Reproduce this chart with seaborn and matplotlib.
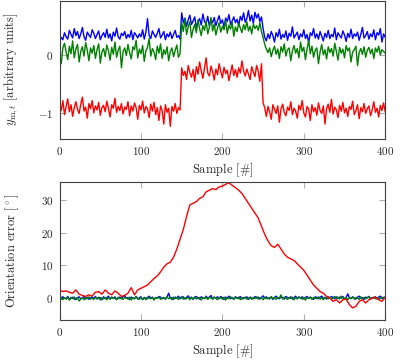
import numpy as np
import pandas as pd
import matplotlib
matplotlib.use("Agg")
import matplotlib.pyplot as plt
import seaborn as sns

# sample index: every 2 samples for the noisy traces, every 4 for the red error
fine_samples = np.arange(0, 401, 2)
coarse_samples = np.arange(0, 401, 4)

# top panel: y_{m,t} per channel (0-148 low, 150-248 high, 250-400 low)
top_blue = [
    0.22, 0.30, 0.26, 0.38, 0.31, 0.27, 0.42, 0.35, 0.29, 0.45,
    0.33, 0.40, 0.28, 0.36, 0.47, 0.31, 0.25, 0.39, 0.34, 0.30,
    0.43, 0.37, 0.28, 0.35, 0.41, 0.26, 0.33, 0.38, 0.30, 0.44,
    0.29, 0.36, 0.24, 0.39, 0.32, 0.46, 0.31, 0.27, 0.37, 0.33,
    0.40, 0.28, 0.35, 0.30, 0.42, 0.26, 0.38, 0.34, 0.29, 0.36,
    0.31, 0.43, 0.27, 0.39, 0.62, 0.33, 0.28, 0.41, 0.35, 0.30,
    0.37, 0.45, 0.29, 0.34, 0.40, 0.26, 0.36, 0.31, 0.39, 0.28,
    0.35, 0.42, 0.30, 0.33, 0.27,
    0.72, 0.55, 0.63, 0.49, 0.60, 0.68, 0.52, 0.58, 0.65, 0.47,
    0.56, 0.62, 0.51, 0.70, 0.57, 0.53, 0.66, 0.49, 0.61, 0.55,
    0.64, 0.50, 0.59, 0.67, 0.54, 0.60, 0.48, 0.63, 0.57, 0.69,
    0.52, 0.58, 0.65, 0.55, 0.61, 0.50, 0.66, 0.59, 0.72, 0.56,
    0.62, 0.76, 0.58, 0.68, 0.54, 0.73, 0.63, 0.70, 0.57, 0.65,
    0.45, 0.30, 0.24, 0.36, 0.28, 0.40, 0.33, 0.22, 0.38, 0.31,
    0.44, 0.27, 0.35, 0.30, 0.41, 0.25, 0.37, 0.32, 0.48, 0.29,
    0.34, 0.39, 0.26, 0.36, 0.31, 0.43, 0.28, 0.35, 0.21, 0.38,
    0.33, 0.45, 0.29, 0.36, 0.27, 0.40, 0.32, 0.24, 0.37, 0.30,
    0.42, 0.28, 0.35, 0.31, 0.46, 0.26, 0.38, 0.33, 0.29, 0.41,
    0.34, 0.23, 0.37, 0.30, 0.44, 0.28, 0.36, 0.32, 0.39, 0.25,
    0.35, 0.47, 0.29, 0.33, 0.40, 0.27, 0.36, 0.31, 0.43, 0.26,
    0.38, 0.34, 0.45, 0.22, 0.36, 0.30,
]
top_green = [
    0.00, -0.15, 0.12, 0.20, 0.05, -0.08, 0.15, 0.02, 0.24, -0.05,
    0.10, 0.18, -0.12, 0.06, 0.14, -0.02, 0.21, 0.08, -0.10, 0.12,
    0.03, 0.16, -0.06, 0.09, 0.19, -0.14, 0.05, 0.11, -0.03, 0.17,
    0.07, -0.09, 0.13, 0.01, 0.22, -0.04, 0.08, 0.15, -0.22, 0.06,
    0.12, -0.01, 0.18, 0.04, -0.07, 0.14, 0.09, 0.25, -0.05, 0.10,
    0.02, 0.16, -0.11, 0.07, 0.13, 0.28, -0.02, 0.11, 0.05, -0.08,
    0.15, 0.03, 0.19, -0.06, 0.09, 0.01, 0.14, -0.10, 0.06, 0.12,
    -0.03, 0.08, 0.17, -0.04, 0.02,
    0.55, 0.40, 0.62, 0.35, 0.48, 0.57, 0.30, 0.44, 0.52, 0.38,
    0.60, 0.45, 0.33, 0.50, 0.42, 0.58, 0.36, 0.47, 0.64, 0.41,
    0.53, 0.34, 0.46, 0.55, 0.39, 0.49, 0.43, 0.59, 0.37, 0.51,
    0.44, 0.56, 0.32, 0.48, 0.40, 0.54, 0.46, 0.38, 0.52, 0.43,
    0.57, 0.41, 0.49, 0.36, 0.53, 0.45, 0.50, 0.42, 0.55, 0.40,
    0.30, 0.18, 0.10, 0.04, 0.12, -0.03, 0.08, 0.15, 0.01, 0.10,
    -0.06, 0.14, 0.05, 0.19, -0.02, 0.09, 0.12, -0.10, 0.07, 0.16,
    0.03, 0.11, -0.05, 0.22, 0.06, 0.13, -0.08, 0.10, 0.25, 0.02,
    0.15, -0.04, 0.08, 0.12, -0.15, 0.05, 0.18, 0.00, 0.09, -0.07,
    0.14, 0.04, 0.11, -0.02, 0.20, 0.06, -0.09, 0.13, 0.03, 0.10,
    -0.05, 0.16, 0.07, 0.12, -0.12, 0.05, 0.09, 0.15, -0.18, 0.04,
    0.11, 0.01, 0.14, -0.04, 0.08, 0.13, 0.02, 0.10, -0.06, 0.12,
    0.05, 0.15, 0.00, 0.09, 0.06, 0.03,
]
top_red = [
    -0.82, -0.95, -0.78, -1.02, -0.88, -0.75, -0.97, -0.85, -1.05, -0.90,
    -0.80, -0.93, -1.00, -0.84, -0.72, -0.96, -0.89, -1.08, -0.83, -0.92,
    -0.78, -0.99, -0.87, -0.94, -0.81, -1.03, -0.90, -0.86, -0.97, -0.79,
    -0.92, -1.06, -0.85, -0.91, -0.74, -0.98, -0.88, -0.95, -0.83, -1.01,
    -0.89, -0.93, -0.80, -1.04, -0.87, -0.96, -0.82, -0.90, -1.10, -0.86,
    -0.94, -0.79, -0.99, -0.88, -0.92, -1.07, -0.84, -0.96, -0.81, -1.02,
    -0.90, -1.12, -0.87, -0.95, -1.18, -0.85, -0.98, -0.91, -1.22, -0.88,
    -0.96, -0.83, -1.00, -0.90, -0.94,
    -0.22, -0.35, -0.28, -0.42, -0.18, -0.30, -0.38, -0.25, -0.45, -0.20,
    -0.33, -0.12, -0.27, -0.40, -0.23, -0.05, -0.31, -0.36, -0.19, -0.29,
    -0.43, -0.24, -0.34, -0.15, -0.28, -0.39, -0.21, -0.32, -0.26, -0.44,
    -0.30, -0.17, -0.35, -0.25, -0.38, -0.22, -0.31, -0.10, -0.27, -0.36,
    -0.24, -0.33, -0.42, -0.20, -0.29, -0.37, -0.18, -0.28, -0.45, -0.15,
    -0.82, -0.90, -1.05, -0.88, -0.97, -1.10, -0.85, -0.93, -1.00, -0.87,
    -1.15, -0.92, -0.84, -0.98, -1.04, -0.89, -0.95, -0.80, -1.02, -0.91,
    -0.96, -1.08, -0.86, -0.94, -0.78, -0.99, -1.06, -0.88, -0.93, -1.12,
    -0.85, -0.97, -0.90, -1.03, -0.82, -0.95, -1.00, -0.87, -1.18, -0.92,
    -0.84, -0.98, -0.76, -1.01, -0.89, -0.94, -1.07, -0.86, -0.96, -0.81,
    -0.99, -0.91, -1.05, -0.88, -0.93, -0.79, -1.02, -0.95, -0.85, -1.09,
    -0.90, -0.97, -0.83, -1.00, -0.92, -0.87, -1.04, -0.94, -0.80, -0.98,
    -0.91, -1.06, -0.86, -0.95, -0.82, -0.97,
]

# bottom panel: orientation error in degrees
err_blue = [
    0.1, -0.3, 0.4, 0.0, -0.2, 0.5, -0.4, 0.2, -0.1, 0.3,
    -0.5, 0.1, 0.4, -0.2, 0.0, 0.6, -0.3, 0.2, -0.4, 0.1,
    0.3, -0.1, 0.5, -0.3, 0.0, 0.2, -0.5, 0.4, -0.2, 0.1,
    0.6, -0.3, 0.2, -0.1, 0.4, -0.4, 0.0, 0.3, -0.2, 0.5,
    0.8, -0.1, 0.2, -0.4, 0.3, 0.0, -0.2, 0.5, -0.3, 0.1,
    0.4, -0.5, 0.2, 0.0, -0.2, 0.6, -0.1, 0.3, -0.4, 0.2,
    0.0, 0.5, 0.3, -0.2, 0.1, -0.3, 0.4, 1.5, -0.1, 0.2,
    -0.4, 0.3, 0.0, 0.6, -0.2, 0.1, 0.4, -0.3, 0.2, 0.7,
    -0.1, 0.3, -0.4, 0.2, 0.5, 0.0, -0.3, 0.4, 0.1, -0.2,
    0.6, -0.1, 0.3, 0.8, -0.3, 0.2, 0.0, 0.4, -0.2, 0.5,
    0.1, -0.4, 0.3, 0.0, 0.6, -0.2, 0.2, -0.3, 0.4, 0.1,
    -0.1, 0.5, -0.3, 0.2, 0.0, 0.4, -0.4, 0.3, 0.1, -0.2,
    0.5, 0.0, 0.3, -0.3, 0.2, 0.7, -0.1, 0.4, -0.2, 0.1,
    0.3, -0.4, 0.2, 0.6, 0.0, -0.2, 0.4, 0.1, -0.3, 0.5,
    0.2, -0.1, 0.4, -0.3, 0.1, 0.6, -0.2, 0.3, 0.0, 0.4,
    -0.3, 0.2, 0.5, -0.1, 0.3, 0.0, -0.4, 0.4, 0.2, -0.2,
    0.3, 0.6, -0.1, 0.2, -0.3, 0.4, 0.0, 0.5, 0.2, -0.2,
    0.4, -0.1, 0.3, 0.0, 0.5, -0.3, 0.2, 1.3, 0.1, -0.2,
    0.4, 0.0, -0.3, 0.3, 0.6, -0.1, 0.2, -0.4, 0.3, 0.1,
    0.5, -0.2, 0.2, 0.0, 0.4, -0.3, 0.3, 0.6, -0.1, 0.2,
    0.3,
]
err_green = [
    -0.2, 0.3, -0.5, 0.1, -0.3, 0.2, -0.6, 0.0, 0.3, -0.4,
    -0.1, 0.2, -0.9, -0.3, 0.1, -0.5, 0.2, -0.2, 0.4, -0.3,
    0.0, -0.4, 0.2, -0.1, 0.3, -0.6, 0.1, -0.2, 0.2, -0.5,
    0.1, -0.3, 0.4, -0.1, 0.0, -0.5, 0.3, -0.2, 0.1, -0.4,
    0.2, 0.0, -0.3, 0.3, -0.6, 0.1, -0.2, 0.4, -0.1, -0.4,
    0.2, -0.3, 0.1, -0.5, 0.3, 0.0, -0.2, 0.2, -0.6, 0.1,
    -0.1, 0.3, -0.4, 0.0, 0.2, -0.3, 0.4, -0.2, 0.1, -0.5,
    0.3, -0.1, 0.2, -0.4, 0.0, 0.5, -0.3, 0.1, -0.2, 0.3,
    -0.5, 0.1, -0.2, 0.4, -0.3, 0.0, 0.2, -0.6, 0.1, -0.1,
    0.3, -0.4, 0.2, 0.0, -0.3, 0.4, -0.1, -0.5, 0.2, 0.1,
    -0.3, 0.3, -0.6, 0.1, -0.2, 0.4, 0.0, -0.4, 0.2, -0.1,
    0.3, -0.5, 0.1, -0.2, 0.3, -0.3, 0.0, 0.2, -0.4, 0.1,
    -0.1, 0.4, -0.3, 0.2, 0.0, -0.5, 0.3, -0.2, 0.1, -0.3,
    0.5, -0.2, 0.2, -0.4, 0.1, 0.0, 1.0, -0.3, 0.3, -0.1,
    -0.4, 0.2, -0.1, 0.3, -0.5, 0.1, -0.2, 0.4, 0.0, -0.3,
    0.2, -0.6, 0.1, -0.1, 0.3, -0.4, 0.2, 0.0, -0.2, 0.4,
    -0.3, 0.1, -0.5, 0.2, 0.0, -0.2, 0.3, -0.4, 0.1, 0.5,
    -0.1, 0.3, -0.3, 0.6, 0.0, -0.2, 0.2, -0.5, 0.1, -0.1,
    0.3, -0.3, 0.2, 0.0, -0.4, 0.4, -0.1, 0.2, -0.2, 0.1,
    0.5, -0.3, 0.0, 0.3, -0.2, 0.2, -0.4, 0.1, 0.3, 0.0,
    0.1,
]
err_red = [
    2.5, 2.0, 2.2, 1.8, 1.5, 2.5, 1.2, 0.8, 0.5, 1.0,
    0.6, 1.8, 2.0, 1.2, 2.5, 1.5, 1.0, 2.2, 1.5, 0.5,
    0.8, 1.5, 3.2, 1.0, 2.5, 3.0, 3.5, 4.0, 5.0, 6.0,
    6.8, 8.0, 9.5, 10.5, 11.0, 12.5, 15.0, 18.0, 21.0, 25.0,
    28.5, 29.0, 29.5, 30.5, 31.0, 32.5, 33.0, 33.5, 33.2, 34.0,
    34.3, 34.8, 35.3, 34.5, 33.8, 33.0, 32.0, 30.5, 29.0, 27.5,
    26.0, 24.5, 22.0, 19.5, 17.5, 16.0, 15.5, 16.5, 15.0, 13.5,
    12.5, 12.0, 11.5, 10.5, 9.5, 8.5, 7.0, 5.5, 4.0, 3.0,
    2.0, 1.5, 0.5, 0.0, -1.0, -0.5, -1.5, -0.5, -0.3, -2.0,
    -3.0, -2.5, -1.0, -0.5, -1.5, -0.5, 0.0, 0.3, -0.5, -1.0,
    0.3,
]

channels = ["blue", "green", "red"]
colors = {"blue": "#0000ff", "green": "#008000", "red": "#ff0000"}


def long_frame(xs, series):
    parts = []
    for name, x, vals in zip(channels, xs, series):
        parts.append(pd.DataFrame({"Sample": x, "value": vals, "channel": name}))
    return pd.concat(parts, ignore_index=True)


top_df = long_frame([fine_samples] * 3, [top_blue, top_green, top_red])
err_df = long_frame([fine_samples, fine_samples, coarse_samples],
                    [err_blue, err_green, err_red])

sns.set_style("ticks")
plt.rcParams["font.family"] = ["serif"]
plt.rcParams["font.serif"] = ["cmr10"]
plt.rcParams["mathtext.fontset"] = "cm"
plt.rcParams["axes.formatter.use_mathtext"] = True

fig = plt.figure(figsize=(4.0, 3.62), dpi=100)
ax1 = fig.add_axes([0.149, 0.617, 0.814, 0.38])
ax2 = fig.add_axes([0.149, 0.116, 0.814, 0.382])

for ax, df in [(ax1, top_df), (ax2, err_df)]:
    sns.lineplot(data=df, x="Sample", y="value", hue="channel", palette=colors,
                 estimator=None, linewidth=1.0, legend=False, ax=ax)
    ax.set_xlim(0, 400)
    ax.set_xticks([0, 100, 200, 300, 400])
    ax.set_xlabel("Sample [$\\#$]", fontsize=9, labelpad=3)
    ax.tick_params(direction="in", length=4, width=0.8, color="#b0b0b0",
                   top=True, right=True, labelsize=8, pad=4.5)
    for sp in ax.spines.values():
        sp.set_color("#404040")
        sp.set_linewidth(0.8)

ax1.set_ylim(-1.43, 0.92)
ax1.set_yticks([-1, 0])
ax1.set_ylabel("$y_{\\mathrm{m},t}$ [arbitrary units]", fontsize=9)
ax1.yaxis.set_label_coords(-0.122, 0.5)

ax2.set_ylim(-6.7, 35.6)
ax2.set_yticks([0, 10, 20, 30])
ax2.set_ylabel("Orientation error [$^\\circ$]", fontsize=9)
ax2.yaxis.set_label_coords(-0.12, 0.5)

fig.savefig("out.png", dpi=100)
plt.close(fig)
